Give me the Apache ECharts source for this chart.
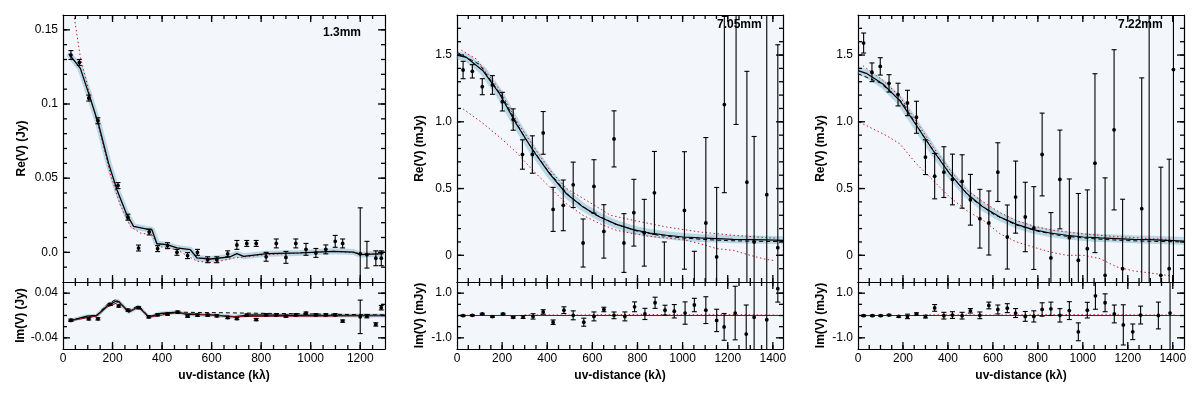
<!DOCTYPE html>
<html>
<head>
<meta charset="utf-8">
<script src="https://cdn.jsdelivr.net/npm/echarts@6/dist/echarts.min.js"></script>
<style>
html,body{margin:0;padding:0;background:#fff}
#chart{width:1200px;height:398px}
</style>
</head>
<body>
<div id="chart"></div>
<script>
// ---- 1.3mm ----
const p1ReX = [32,66,104,141,222,262,305,348,382,422,460,503,543,584,621,665,702,742,780,820,861,900,940,981,1021,1061,1099,1129,1200,1227,1263,1285]
const p1ReY = [0.133,0.128,0.104,0.0887,0.045,0.0237,0.0029,0.0137,0.0025,0.0045,0.0,-0.0022,0.0,-0.005,-0.005,-0.001,0.005,0.006,0.006,-0.003,0.006,-0.0034,0.006,0.002,-0.0004,0.002,0.0074,0.006,-0.001,-0.0016,-0.004,-0.004]
const p1ReErr = [0.003,0.002,0.002,0.002,0.002,0.002,0.002,0.002,0.002,0.002,0.002,0.002,0.002,0.002,0.002,0.002,0.003,0.002,0.002,0.003,0.003,0.004,0.003,0.004,0.003,0.003,0.004,0.003,0.031,0.009,0.005,0.005]
const p1ReModel = [[23,0.134],[70,0.124],[108,0.105],[144,0.086],[184,0.060],[218,0.042],[256,0.026],[285,0.0175],[339,0.0157],[359,0.0152],[379,0.0058],[420,0.0052],[460,0.003],[514,0.0018],[541,-0.0038],[595,-0.0045],[675,-0.003],[702,-0.0009],[729,-0.0027],[823,-0.0009],[958,-0.0004],[1092,0.0007],[1173,0.0002],[1200,-0.0016],[1294,-0.0009]]
const p1ReAlt = [[46,0.158],[70,0.1316],[110,0.105],[151,0.080],[191,0.053],[231,0.032],[272,0.0175],[312,0.013],[359,0.0119],[386,0.004],[460,0.0018],[541,-0.006],[608,-0.007],[689,-0.0038],[823,-0.0016],[1092,0.0007],[1294,-0.0016]]
const p1ImX = [32,104,141,191,225,262,305,346,382,422,463,503,543,584,621,665,702,742,780,820,861,900,940,981,1021,1061,1099,1129,1200,1227,1263,1285]
const p1ImY = [-0.0085,-0.006,-0.006,0.020,0.017,0.0097,0.014,-0.0024,0.0012,0.0024,0.006,-0.0012,0.0006,0.0006,-0.0006,-0.0036,-0.0055,0.0006,-0.0073,0.0012,0.0012,-0.0012,0.0012,0.0042,0.0012,0.0012,0.0012,-0.010,-0.0024,-0.0012,-0.016,0.014]
const p1ImErr = [0.002,0.002,0.002,0.002,0.002,0.002,0.002,0.002,0.002,0.002,0.002,0.002,0.002,0.002,0.002,0.002,0.002,0.002,0.002,0.002,0.002,0.002,0.002,0.002,0.002,0.002,0.002,0.002,0.03,0.003,0.003,0.004]
const p1ImModel = [[23,-0.010],[97,-0.0012],[137,0],[178,0.017],[215,0.026],[225,0.025],[265,0.006],[305,0.016],[346,-0.003],[393,0.0036],[460,0.006],[500,0.002],[600,0.001],[689,-0.0024],[756,0.0012],[1000,0.0],[1300,0]]
const p1ImDash = [[23,-0.009],[137,0.001],[178,0.02],[215,0.029],[265,0.008],[305,0.018],[346,-0.002],[460,0.006],[1300,0.001]]
const p1ImAlt = [[23,-0.01],[137,-0.001],[178,0.015],[225,0.024],[265,0.006],[305,0.015],[346,-0.003],[460,0.005],[700,-0.002],[1300,0]]

// ---- 7.05mm ----
const p2ReX = [27,68,112,157,201,249,290,334,382,426,471,515,559,607,651,696,740,784,830,875,919,1008,1052,1103,1151,1185,1237,1285,1317,1373,1422]
const p2ReY = [1.388,1.378,1.263,1.276,1.151,1.017,0.755,0.755,0.917,0.344,0.374,0.528,0.092,0.516,0.179,0.872,0.092,0.319,0.169,0.468,-0.3,0.336,-0.5,0.242,-0.012,1.129,2.2,0.548,0.1,0.454,0.057]
const p2ReErr = [0.065,0.05,0.06,0.07,0.07,0.08,0.11,0.14,0.16,0.165,0.19,0.17,0.18,0.2,0.2,0.21,0.22,0.25,0.25,0.31,0.4,0.44,0.53,0.64,0.52,0.66,1.22,0.83,0.79,1.6,1.52]
const p2ReModel = [[0,1.5],[41,1.483],[115,1.383],[189,1.209],[263,0.984],[337,0.785],[411,0.610],[485,0.461],[559,0.361],[633,0.287],[707,0.232],[781,0.192],[855,0.167],[929,0.150],[1003,0.137],[1077,0.130],[1151,0.125],[1225,0.120],[1299,0.118],[1373,0.116],[1445,0.112]]
const p2ReDash = [[0,1.52],[100,1.43],[200,1.19],[300,0.88],[400,0.64],[500,0.44],[600,0.315],[700,0.235],[800,0.18],[900,0.148],[1000,0.13],[1100,0.118],[1200,0.11],[1300,0.106],[1445,0.102]]
const p2ReHigh = [[19,1.537],[86,1.47],[189,1.24],[263,1.01],[337,0.82],[411,0.64],[485,0.5],[574,0.411],[680,0.3],[781,0.262],[929,0.212],[1077,0.174],[1225,0.150],[1373,0.132],[1420,0.128]]
const p2ReLow = [[27,1.096],[115,0.989],[189,0.885],[263,0.772],[337,0.635],[411,0.511],[485,0.386],[559,0.299],[633,0.237],[707,0.187],[781,0.162],[855,0.142],[1003,0.117],[1077,0.087],[1151,0.05],[1225,0.037],[1299,0.0],[1373,-0.032],[1410,-0.04]]
const p2ImX = [27,68,112,157,204,249,293,337,382,426,474,515,562,607,651,696,744,787,833,878,922,963,1011,1052,1103,1151,1184,1233,1282,1317,1373,1422]
const p2ImY = [-0.008,0.007,0.07,-0.05,0.07,-0.08,-0.07,-0.04,0.16,-0.30,0.24,0.008,-0.30,-0.04,0.27,0.008,-0.04,0.39,0.07,0.57,0.24,0.19,0.11,0.47,0.24,-0.22,-0.51,0.11,-0.83,-0.08,-0.19,1.2]
const p2ImErr = [0.03,0.03,0.03,0.03,0.03,0.04,0.06,0.12,0.1,0.1,0.15,0.2,0.18,0.2,0.1,0.15,0.2,0.22,0.25,0.25,0.22,0.3,0.5,0.3,0.6,0.5,0.6,1.2,1.3,2.0,2.0,0.6]
const p2ImModel = [[0,0],[1445,0]]
const p2ImAlt = [[300,0.03],[500,0.02],[800,0.05],[1000,0.03],[1200,0.04],[1420,0.02]]

// ---- 7.22mm ----
const p3ReX = [25,62,99,138,178,220,260,300,341,382,420,463,500,542,582,622,664,701,744,782,819,858,898,940,980,1020,1054,1099,1139,1177,1262,1295,1347,1384,1403]
const p3ReY = [1.590,1.371,1.415,1.288,1.204,1.141,1.034,0.735,0.593,0.623,0.568,0.553,0.416,0.274,0.242,0.623,0.137,0.436,0.287,0.204,0.755,-0.02,0.568,0.132,-0.037,0.05,0.690,-0.15,0.940,-0.1,0.349,-0.35,-0.15,-0.1,1.391]
const p3ReErr = [0.075,0.07,0.065,0.065,0.085,0.095,0.12,0.13,0.17,0.19,0.19,0.2,0.19,0.22,0.24,0.22,0.24,0.27,0.26,0.31,0.31,0.34,0.37,0.44,0.5,0.44,0.67,0.73,0.6,0.52,0.98,2.3,0.81,0.82,1.7]
const p3ReModel = [[0,1.383],[37,1.363],[111,1.283],[186,1.159],[260,0.972],[334,0.785],[408,0.611],[482,0.466],[557,0.361],[631,0.287],[705,0.232],[779,0.192],[854,0.167],[928,0.150],[1002,0.137],[1076,0.130],[1150,0.125],[1225,0.120],[1299,0.117],[1373,0.112],[1450,0.107]]
const p3ReDash = [[0,1.36],[100,1.29],[200,1.14],[300,0.87],[400,0.63],[500,0.43],[600,0.31],[700,0.23],[800,0.18],[900,0.148],[1000,0.13],[1100,0.118],[1200,0.11],[1300,0.105],[1450,0.1]]
const p3ReHigh = [[22,1.42],[111,1.31],[186,1.19],[260,1.0],[334,0.81],[408,0.64],[482,0.49],[557,0.40],[631,0.32],[705,0.26],[779,0.22],[854,0.19],[1002,0.16],[1150,0.14],[1299,0.125],[1400,0.118]]
const p3ReLow = [[7,0.997],[126,0.897],[186,0.835],[260,0.685],[334,0.561],[408,0.436],[482,0.336],[557,0.262],[631,0.162],[705,0.10],[779,0.062],[854,0.025],[928,0.0],[1002,0.0],[1076,-0.025],[1151,-0.087],[1225,-0.117],[1299,-0.132],[1373,-0.150],[1403,-0.157]]
const p3ImX = [25,64,101,138,181,220,260,300,341,382,420,463,500,542,582,622,664,701,744,782,819,858,898,940,980,1020,1056,1099,1140,1180,1222,1257,1336,1388]
const p3ImY = [-0.008,-0.008,-0.008,0.02,-0.04,-0.04,0.07,-0.05,0.34,-0.008,0.02,-0.008,0.21,0.008,0.45,0.27,0.33,0.11,-0.04,-0.04,0.27,0.30,0.008,0.22,-0.73,0.24,0.88,0.57,0.07,-0.42,-0.73,0.02,0.0,0.11]
const p3ImErr = [0.03,0.03,0.03,0.03,0.04,0.1,0.05,0.06,0.15,0.15,0.15,0.15,0.1,0.15,0.15,0.2,0.2,0.2,0.22,0.25,0.3,0.3,0.3,0.4,0.4,0.35,0.6,0.4,0.4,0.9,0.35,0.4,0.6,2.0]
const p3ImModel = [[0,0],[1450,0]]
const p3ImAlt = [[300,0.03],[600,0.02],[900,0.04],[1200,0.03],[1420,0.02]]

// tick labels
const xTicks1 = [0,200,400,600,800,1000,1200]
const xTicks2 = [0,200,400,600,800,1000,1200,1400]
const reTicks1 = [0,0.05,0.1,0.15]
const imTicks1 = [-0.04,0.04]
const reTicks2 = [0,0.5,1.0,1.5]
const imTicks2 = [-1.0,1.0]

const FONT = '"Liberation Sans", Arial, sans-serif'

function steps(a, b, s) {
  let out = []
  let start = Math.ceil(a / s - 1e-9) * s
  let n = Math.floor((b - start) / s + 1e-9)
  for (let i = 0; i <= n; i++) out.push(Math.round((start + i * s) * 1e6) / 1e6)
  return out
}

let xAxis = [], yAxis = []
function addAxis(list, g, pos, min, max, majors, label) {
  list.push({
    type: 'value', gridIndex: g, position: pos, min, max,
    splitLine: {show: false},
    axisLine: {show: true, onZero: false, lineStyle: {color: '#000', width: 1.2}},
    axisTick: {show: false},
    axisLabel: label ? {show: true, customValues: majors, formatter: label.fmt, margin: label.margin, color: '#000', fontFamily: FONT, fontSize: 12} : {show: false},
    name: label ? label.name : '',
    nameLocation: 'middle',
    nameGap: label ? label.gap : 0,
    nameTextStyle: {color: '#000', fontFamily: FONT, fontSize: 12, fontWeight: 'bold'}
  })
}

const panels = [
  {left: 63, width: 322, xmax: 1300, xt: xTicks1, re: [-0.02, 0.16, reTicks1, 0.01, v => v === 0 ? '0.0' : String(v)], im: [-0.06, 0.06, imTicks1, 0.02, v => v.toFixed(2)], unit: 'Jy', gap: 35},
  {left: 457, width: 326, xmax: 1445, xt: xTicks2, re: [-0.2, 1.8, reTicks2, 0.1, v => v === 0 ? '0' : v.toFixed(1)], im: [-1.5, 1.5, imTicks2, 0.5, v => v.toFixed(1)], unit: 'mJy', gap: 31},
  {left: 858, width: 326, xmax: 1450, xt: xTicks2, re: [-0.2, 1.8, reTicks2, 0.1, v => v === 0 ? '0' : v.toFixed(1)], im: [-1.5, 1.5, imTicks2, 0.5, v => v.toFixed(1)], unit: 'mJy', gap: 31}
]

// grid g owns xAxis 2g (bottom) / 2g+1 (top) and yAxis 2g (left) / 2g+1 (right)
let grid = []
panels.forEach((p, i) => {
  let gTop = 2 * i, gBot = 2 * i + 1
  grid.push({left: p.left, top: 15, width: p.width, height: 267, show: true, z: 0, backgroundColor: '#f3f7fc', borderWidth: 0})
  grid.push({left: p.left, top: 282, width: p.width, height: 67, show: true, z: 0, backgroundColor: '#f3f7fc', borderWidth: 0})
  addAxis(xAxis, gTop, 'bottom', 0, p.xmax, p.xt, null)
  addAxis(xAxis, gTop, 'top', 0, p.xmax, p.xt, null)
  addAxis(yAxis, gTop, 'left', p.re[0], p.re[1], p.re[2], {fmt: p.re[4], margin: 5, name: 'Re(V) (' + p.unit + ')', gap: p.gap})
  addAxis(yAxis, gTop, 'right', p.re[0], p.re[1], p.re[2], null)
  addAxis(xAxis, gBot, 'bottom', 0, p.xmax, p.xt, {fmt: v => String(v), margin: 4, name: 'uv-distance (kλ)', gap: 21})
  addAxis(xAxis, gBot, 'top', 0, p.xmax, p.xt, null)
  addAxis(yAxis, gBot, 'left', p.im[0], p.im[1], p.im[2], {fmt: p.im[4], margin: 5, name: 'Im(V) (' + p.unit + ')', gap: p.gap})
  addAxis(yAxis, gBot, 'right', p.im[0], p.im[1], p.im[2], null)
})

function axisIdx(g) { return g * 2 }

function lineS(g, data, color, width, type, z) {
  return {type: 'line', xAxisIndex: axisIdx(g), yAxisIndex: axisIdx(g), data: data,
    showSymbol: false, symbol: 'none', clip: true, z: z,
    lineStyle: {color: color, width: width, type: type}}
}

function errRender(params, api) {
  let x = api.value(0), y = api.value(1), e = api.value(2)
  let lo = api.coord([x, y - e]), hi = api.coord([x, y + e]), c = api.coord([x, y])
  let w = 2.5
  let st = {stroke: '#000', lineWidth: 1.1}
  return {type: 'group', children: [
    {type: 'line', shape: {x1: lo[0], y1: lo[1], x2: hi[0], y2: hi[1]}, style: st},
    {type: 'line', shape: {x1: lo[0] - w, y1: lo[1], x2: lo[0] + w, y2: lo[1]}, style: st},
    {type: 'line', shape: {x1: hi[0] - w, y1: hi[1], x2: hi[0] + w, y2: hi[1]}, style: st},
    {type: 'circle', shape: {cx: c[0], cy: c[1], r: 1.9}, style: {fill: '#000'}}
  ]}
}

function errS(g, xs, ys, es) {
  return {type: 'custom', xAxisIndex: axisIdx(g), yAxisIndex: axisIdx(g),
    data: xs.map((x, i) => [x, ys[i], es[i]]), renderItem: errRender, clip: true, z: 10}
}

// inside tick marks on all four sides of a grid, placed through the axis scales
function tickRender(dim, otherVal) {
  return function (params, api) {
    let cs = params.coordSys, v = api.value(0), len = api.value(1)
    if (dim === 'x') {
      let px = api.coord([v, otherVal])[0]
      let b = cs.y + cs.height
      return {type: 'group', children: [
        {type: 'line', shape: {x1: px, y1: b, x2: px, y2: b - len}, style: {stroke: '#000', lineWidth: 1.3}},
        {type: 'line', shape: {x1: px, y1: cs.y, x2: px, y2: cs.y + len}, style: {stroke: '#000', lineWidth: 1.3}}]}
    }
    let py = api.coord([otherVal, v])[1]
    let r = cs.x + cs.width
    return {type: 'group', children: [
      {type: 'line', shape: {x1: cs.x, y1: py, x2: cs.x + len, y2: py}, style: {stroke: '#000', lineWidth: 1.3}},
      {type: 'line', shape: {x1: r, y1: py, x2: r - len, y2: py}, style: {stroke: '#000', lineWidth: 1.3}}]}
  }
}

function tickS(g, dim, min, max, majors, minorStep, otherVal) {
  let data = majors.filter(v => v > min && v < max).map(v => [v, 7])
    .concat(steps(min, max, minorStep).filter(v => v > min && v < max).map(v => [v, 4]))
  return {type: 'custom', xAxisIndex: axisIdx(g), yAxisIndex: axisIdx(g), data: data,
    clip: false, z: 12, renderItem: tickRender(dim, otherVal)}
}

const BAND = 'rgba(120,175,205,0.45)'
const RED = '#c8202a'
const DOT = [1.5, 2.5]

let series = []
panels.forEach((p, i) => {
  let gTop = 2 * i, gBot = 2 * i + 1
  series.push(tickS(gTop, 'x', 0, p.xmax, p.xt, 50, p.re[0]))
  series.push(tickS(gTop, 'y', p.re[0], p.re[1], p.re[2], p.re[3], 0))
  series.push(tickS(gBot, 'x', 0, p.xmax, p.xt, 50, p.im[0]))
  series.push(tickS(gBot, 'y', p.im[0], p.im[1], p.im[2], p.im[3], 0))
})

series.push(
  // 1.3mm Re
  lineS(0, p1ReModel, BAND, 6, 'solid', 2),
  lineS(0, p1ReAlt, RED, 1, DOT, 3),
  lineS(0, p1ReModel, '#000', 1.3, 'solid', 4),
  errS(0, p1ReX, p1ReY, p1ReErr),
  // 1.3mm Im
  lineS(1, p1ImModel, BAND, 4, 'solid', 2),
  lineS(1, p1ImDash, '#000', 1, [4, 3], 3),
  lineS(1, p1ImModel, '#000', 1.3, 'solid', 4),
  lineS(1, p1ImAlt, '#8a1010', 1, 'solid', 5),
  errS(1, p1ImX, p1ImY, p1ImErr),
  // 7.05mm Re
  lineS(2, p2ReModel, BAND, 8, 'solid', 2),
  lineS(2, p2ReHigh, RED, 1, DOT, 3),
  lineS(2, p2ReLow, RED, 1, DOT, 3),
  lineS(2, p2ReDash, '#000', 1, [4, 3], 4),
  lineS(2, p2ReModel, '#000', 1.2, 'solid', 5),
  errS(2, p2ReX, p2ReY, p2ReErr),
  // 7.05mm Im
  lineS(3, p2ImAlt, RED, 1, DOT, 3),
  lineS(3, p2ImModel, '#8a1010', 1.2, 'solid', 4),
  errS(3, p2ImX, p2ImY, p2ImErr),
  // 7.22mm Re
  lineS(4, p3ReModel, BAND, 8, 'solid', 2),
  lineS(4, p3ReHigh, RED, 1, DOT, 3),
  lineS(4, p3ReLow, RED, 1, DOT, 3),
  lineS(4, p3ReDash, '#000', 1, [4, 3], 4),
  lineS(4, p3ReModel, '#000', 1.2, 'solid', 5),
  errS(4, p3ReX, p3ReY, p3ReErr),
  // 7.22mm Im
  lineS(5, p3ImAlt, RED, 1, DOT, 3),
  lineS(5, p3ImModel, '#8a1010', 1.2, 'solid', 4),
  errS(5, p3ImX, p3ImY, p3ImErr)
)

let chart = echarts.init(document.getElementById('chart'))
chart.setOption({
  animation: false,
  backgroundColor: '#fff',
  grid: grid,
  xAxis: xAxis,
  yAxis: yAxis,
  series: series,
  graphic: [
    {type: 'text', left: 323, top: 27, z: 20, style: {text: '1.3mm', font: 'bold 12px ' + FONT, fill: '#000'}},
    {type: 'text', left: 717, top: 19, z: 20, style: {text: '7.05mm', font: 'bold 12px ' + FONT, fill: '#000'}},
    {type: 'text', left: 1118, top: 19, z: 20, style: {text: '7.22mm', font: 'bold 12px ' + FONT, fill: '#000'}}
  ]
})
</script>
</body>
</html>
